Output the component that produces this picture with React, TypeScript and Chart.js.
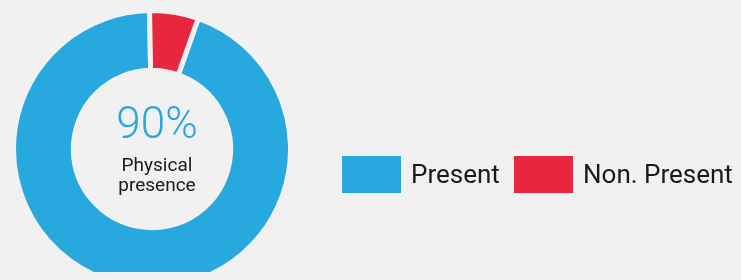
import React, { useEffect, useRef } from "react";
import { Chart, registerables } from "chart.js";

Chart.register(...registerables);

const labels: string[] = ["Present", "Non. Present"];
const values: number[] = [94.3, 5.7];
const colors: string[] = ["#27a8df", "#e8263e"];
const centerValue = "90%";
const centerLines: string[] = ["Physical", "presence"];

const BG = "#f1f1f1";
const FONT = "Roboto, 'Noto Sans', sans-serif";

export default function App() {
  const canvasRef = useRef<HTMLCanvasElement | null>(null);

  useEffect(() => {
    document.documentElement.style.overflow = "hidden";
    document.documentElement.style.background = BG;
    document.body.style.overflow = "hidden";
    document.body.style.background = BG;
    const total = values.reduce((a, b) => a + b, 0);
    const chart = new Chart(canvasRef.current as HTMLCanvasElement, {
      type: "doughnut",
      data: {
        labels,
        datasets: [
          {
            data: values,
            backgroundColor: colors,
            borderColor: BG,
            borderWidth: 5,
            hoverOffset: 0,
          },
        ],
      },
      options: {
        animation: false,
        responsive: false,
        maintainAspectRatio: false,
        cutout: "56.8%",
        rotation: (360 * values[values.length - 1]) / total - 1,
        plugins: {
          legend: { display: false },
          tooltip: { enabled: false },
        },
      },
    });
    return () => chart.destroy();
  }, []);

  const textColor = "#1a1a1a";

  return (
    <div style={{ position: "relative", width: 725, height: 264, fontFamily: FONT }}>
      <canvas
        ref={canvasRef}
        width={282}
        height={282}
        style={{ position: "absolute", left: 3, top: 0, width: 282, height: 282 }}
      />
      <div
        style={{
          position: "absolute",
          left: 49,
          top: 93,
          width: 200,
          textAlign: "center",
          fontSize: 44,
          lineHeight: "44px",
          fontWeight: 300,
          color: colors[0],
        }}
      >
        {centerValue}
      </div>
      <div
        style={{
          position: "absolute",
          left: 49,
          top: 147,
          width: 200,
          textAlign: "center",
          fontSize: 19,
          lineHeight: "20px",
          color: textColor,
        }}
      >
        {centerLines.map((l, i) => (
          <div key={i}>{l}</div>
        ))}
      </div>
      {[
        { boxLeft: 334, textLeft: 403 },
        { boxLeft: 506, textLeft: 575 },
      ].map((p, i) => (
        <React.Fragment key={i}>
          <div
            style={{
              position: "absolute",
              left: p.boxLeft,
              top: 148,
              width: 59,
              height: 37,
              background: colors[i],
            }}
          />
          <div
            style={{
              position: "absolute",
              left: p.textLeft,
              top: 153,
              fontSize: 26,
              lineHeight: "26px",
              whiteSpace: "nowrap",
              color: textColor,
            }}
          >
            {labels[i]}
          </div>
        </React.Fragment>
      ))}
    </div>
  );
}
